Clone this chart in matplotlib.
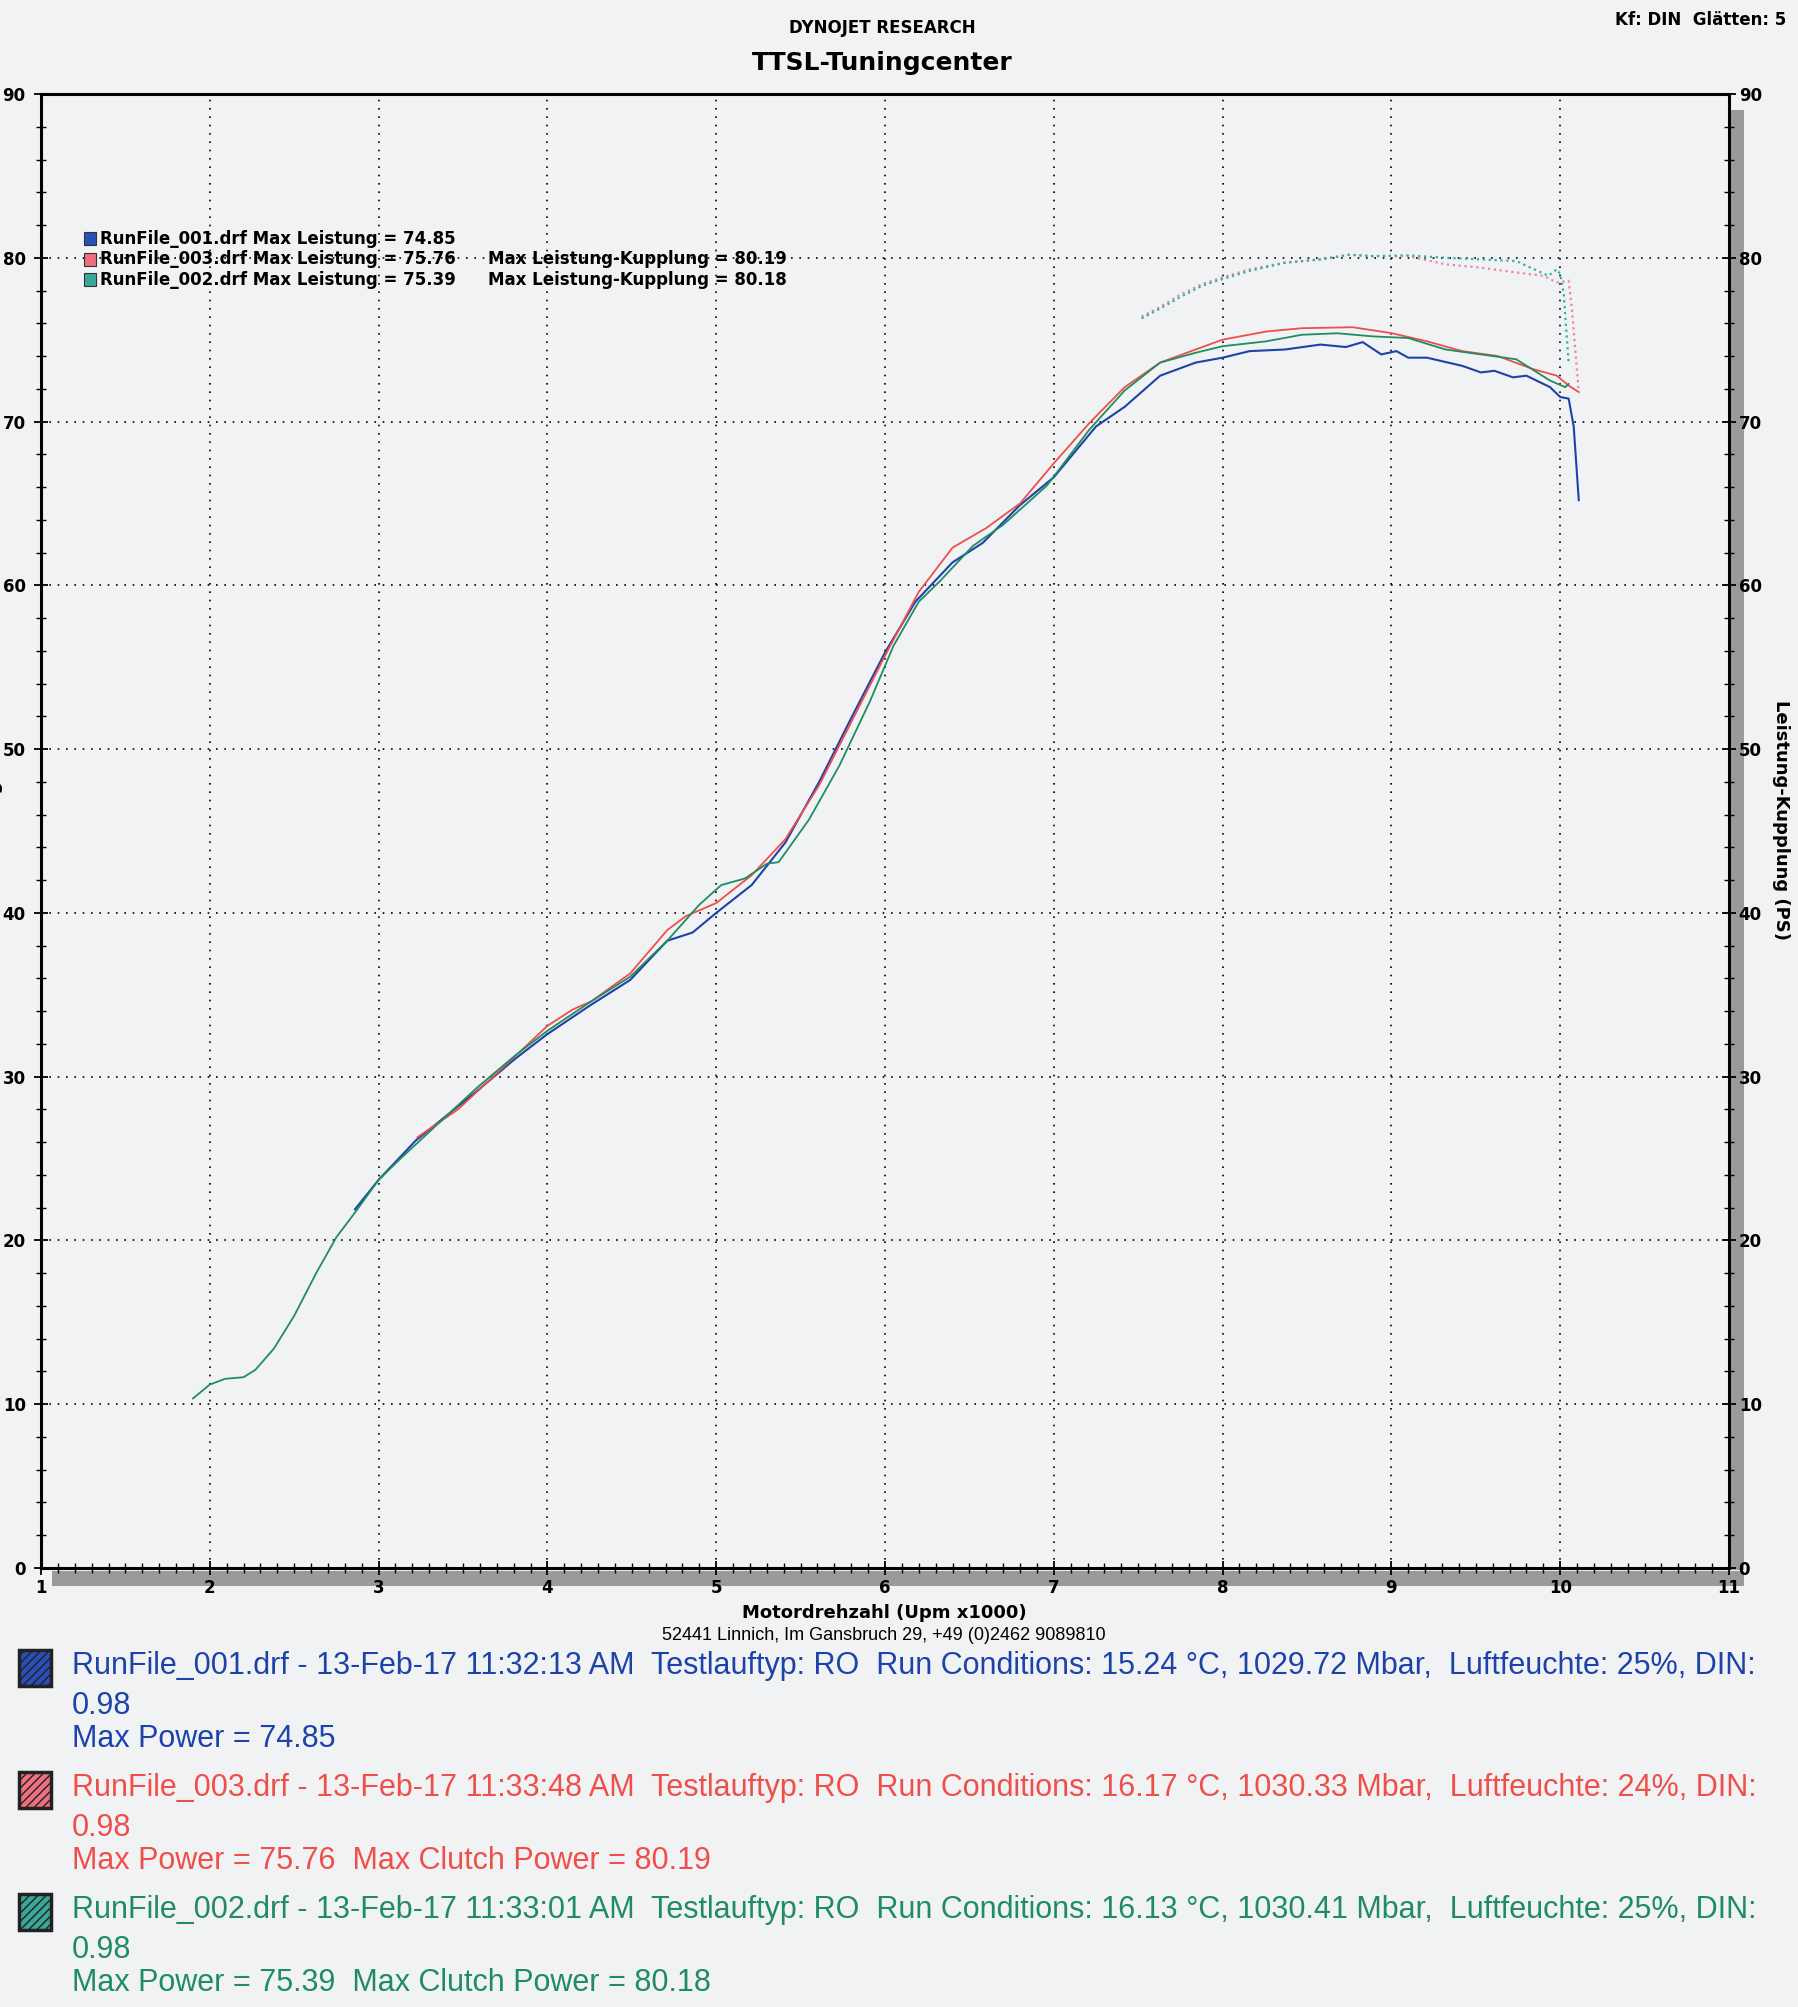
import matplotlib
matplotlib.use("Agg")
import matplotlib.pyplot as plt
from matplotlib.patches import Rectangle
import numpy as np

plt.rcParams['font.family'] = ['DejaVu Sans']

# --- data (rpm x1000, PS) ---
rpm_001 = [2.86, 3.0, 3.22, 3.58, 3.81, 4.0, 4.26, 4.49, 4.71, 4.86, 5.0, 5.21, 5.41, 5.61,
           5.81, 6.0, 6.18, 6.4, 6.58, 6.8, 7.0, 7.25, 7.42, 7.63, 7.84, 8.0, 8.16, 8.37,
           8.58, 8.73, 8.83, 8.94, 9.03, 9.1, 9.21, 9.42, 9.53, 9.61, 9.72, 9.8, 9.94, 10.0,
           10.05, 10.08, 10.11]
pwr_001 = [21.9, 23.7, 26.1, 29.1, 31.1, 32.6, 34.4, 35.9, 38.3, 38.8, 40.0, 41.7, 44.3, 48.0,
           52.1, 55.9, 59.0, 61.4, 62.6, 64.9, 66.6, 69.7, 70.9, 72.8, 73.6, 73.9, 74.3, 74.4,
           74.7, 74.55, 74.85, 74.1, 74.3, 73.9, 73.9, 73.4, 73.0, 73.1, 72.7, 72.8, 72.1, 71.5,
           71.4, 69.7, 65.2]

rpm_003 = [3.23, 3.47, 3.7, 4.0, 4.15, 4.26, 4.49, 4.71, 4.82, 5.0, 5.21, 5.41, 5.61, 5.81,
           6.0, 6.2, 6.4, 6.6, 6.8, 7.0, 7.21, 7.42, 7.63, 7.84, 8.0, 8.26, 8.47, 8.77, 9.0,
           9.21, 9.42, 9.63, 9.84, 9.98, 10.05, 10.11]
pwr_003 = [26.3, 28.0, 30.2, 33.1, 34.1, 34.6, 36.3, 38.95, 39.8, 40.6, 42.3, 44.5, 47.8, 51.85,
           55.7, 59.6, 62.3, 63.5, 65.0, 67.45, 69.9, 72.1, 73.6, 74.4, 75.0, 75.5, 75.7, 75.76,
           75.4, 74.9, 74.3, 74.0, 73.2, 72.8, 72.2, 71.8]

rpm_002 = [1.9, 2.0, 2.09, 2.2, 2.27, 2.38, 2.5, 2.63, 2.75, 2.86, 3.0, 3.13, 3.36, 3.58, 3.81,
           4.0, 4.26, 4.49, 4.71, 4.9, 5.03, 5.17, 5.3, 5.37, 5.55, 5.73, 5.91, 6.05, 6.2, 6.32,
           6.52, 6.7, 6.96, 7.21, 7.42, 7.63, 7.84, 8.0, 8.26, 8.47, 8.68, 8.89, 9.1, 9.32, 9.53,
           9.74, 9.94, 10.03, 10.05]
pwr_002 = [10.35, 11.2, 11.55, 11.65, 12.1, 13.4, 15.4, 18.0, 20.2, 21.7, 23.7, 25.0, 27.2, 29.3,
           31.3, 32.8, 34.6, 36.1, 38.3, 40.5, 41.7, 42.1, 43.0, 43.1, 45.7, 49.0, 52.9, 56.3,
           59.0, 60.2, 62.4, 63.7, 66.1, 69.5, 71.9, 73.6, 74.2, 74.6, 74.9, 75.3, 75.39, 75.2,
           75.1, 74.4, 74.1, 73.8, 72.5, 72.1, 72.3]

# clutch power (Leistung-Kupplung)
rpm_003k = [7.52, 7.63, 7.74, 7.88, 8.0, 8.16, 8.37, 8.58, 8.75, 8.89, 9.1, 9.32, 9.53, 9.74,
            9.9, 9.98, 10.05, 10.07, 10.11]
kpl_003 = [76.4, 77.0, 77.7, 78.4, 78.8, 79.3, 79.7, 79.9, 80.19, 80.1, 80.1, 79.6, 79.4, 79.1,
           78.9, 78.5, 78.6, 76.8, 71.8]
rpm_002k = [7.52, 7.63, 7.74, 7.88, 8.0, 8.16, 8.37, 8.58, 8.75, 8.89, 9.1, 9.32, 9.53, 9.74,
            9.93, 9.98, 10.0, 10.02, 10.05]
kpl_002 = [76.3, 76.9, 77.55, 78.3, 78.7, 79.2, 79.7, 79.9, 80.18, 80.1, 80.15, 80.0, 79.9, 79.8,
           78.9, 79.3, 79.0, 77.9, 73.6]

legend_lines = ['RunFile_001.drf Max Leistung = 74.85',
                'RunFile_003.drf Max Leistung = 75.76',
                'RunFile_002.drf Max Leistung = 75.39']
legend_clutch = ['', 'Max Leistung-Kupplung = 80.19', 'Max Leistung-Kupplung = 80.18']

run_info = [
    ('RunFile_001.drf - 13-Feb-17 11:32:13 AM  Testlauftyp: RO  Run Conditions: 15.24 \u00b0C, '
     '1029.72 Mbar,  Luftfeuchte: 25%, DIN:', '0.98', 'Max Power = 74.85'),
    ('RunFile_003.drf - 13-Feb-17 11:33:48 AM  Testlauftyp: RO  Run Conditions: 16.17 \u00b0C, '
     '1030.33 Mbar,  Luftfeuchte: 24%, DIN:', '0.98', 'Max Power = 75.76  Max Clutch Power = 80.19'),
    ('RunFile_002.drf - 13-Feb-17 11:33:01 AM  Testlauftyp: RO  Run Conditions: 16.13 \u00b0C, '
     '1030.41 Mbar,  Luftfeuchte: 25%, DIN:', '0.98', 'Max Power = 75.39  Max Clutch Power = 80.18'),
]

c_blue = '#1d43a8'
c_red = '#ef4f4a'
c_green = '#1f8c62'
c_pink = '#f0849a'
c_cyan = '#2fb2a6'
text_colors = [c_blue, c_red, c_green]
swatch_colors = ['#2a4fb8', '#ee7080', '#3aa898']
paper = '#f1f2f4'

W, H = 1798, 2007
fig = plt.figure(figsize=(W / 100, H / 100), dpi=100, facecolor=paper)
ax = fig.add_axes([41 / W, 1 - 1568 / H, (1729 - 41) / W, (1568 - 94) / H])
ax.set_facecolor(paper)

ax.plot(rpm_001, pwr_001, '-', color=c_blue, lw=1.5)
ax.plot(rpm_003, pwr_003, '-', color=c_red, lw=1.3)
ax.plot(rpm_002, pwr_002, '-', color=c_green, lw=1.3)
ax.plot(rpm_003k, kpl_003, ':', color=c_pink, lw=1.6)
ax.plot(rpm_002k, kpl_002, ':', color=c_cyan, lw=1.6)

ax.set_xlim(1, 11)
ax.set_ylim(0, 90)
ax.set_xticks(np.arange(1, 12))
ax.set_xticks(np.arange(1, 11.01, 0.1), minor=True)
ax.set_yticks(np.arange(0, 91, 10))
ax.set_yticks(np.arange(0, 91, 2), minor=True)
ax.grid(True, which='major', color='black', linestyle=(0, (1, 4)), lw=1.2)
for s in ax.spines.values():
    s.set_linewidth(2.2)
ax.tick_params(axis='both', which='major', direction='inout', length=10, width=1.3,
               labelsize=12)
ax.tick_params(axis='both', which='minor', direction='inout', length=7, width=1.0)
ax.tick_params(axis='y', pad=6)
ax.tick_params(axis='x', pad=3)
for lab in ax.get_xticklabels() + ax.get_yticklabels():
    lab.set_fontweight('bold')

ax2 = ax.twinx()
ax2.set_ylim(0, 90)
ax2.set_yticks(np.arange(0, 91, 10))
ax2.set_yticks(np.arange(0, 91, 2), minor=True)
ax2.tick_params(axis='y', which='major', direction='inout', length=10, width=1.3,
                labelsize=12, pad=2)
ax2.tick_params(axis='y', which='minor', direction='inout', length=7, width=1.0)
for lab in ax2.get_yticklabels():
    lab.set_fontweight('bold')
for s in ax2.spines.values():
    s.set_visible(False)

fig.text(1781 / W, 1 - 820 / H, 'Leistung-Kupplung (PS)', rotation=270, fontsize=13,
         fontweight='bold', ha='center', va='center')

# shadow bands under/right of the frame (behind the tick labels)
fig.patches.append(Rectangle((1731 / W, 1 - 1570 / H), 13 / W, (1570 - 110) / H,
                             transform=fig.transFigure, facecolor='#9a9a9a',
                             edgecolor='none', zorder=-1))
fig.patches.append(Rectangle((52 / W, 1 - 1586 / H), (1744 - 52) / W, 15 / H,
                             transform=fig.transFigure, facecolor='#9a9a9a',
                             edgecolor='none', zorder=-1))

# in-plot legend
for i, (t1, t2) in enumerate(zip(legend_lines, legend_clutch)):
    yy = 1 - (239 + i * 20.5) / H
    fig.patches.append(Rectangle((84 / W, yy - 6 / H), 12 / W, 13 / H,
                                 transform=fig.transFigure, facecolor=swatch_colors[i],
                                 edgecolor='#333333', lw=0.8))
    fig.text(100 / W, yy, t1, fontsize=12, fontweight='bold', va='center', ha='left')
    if t2:
        fig.text(488 / W, yy, t2, fontsize=12, fontweight='bold', va='center', ha='left')

fig.text(882 / W, 1 - 28 / H, 'DYNOJET RESEARCH', fontsize=12, fontweight='bold',
         ha='center', va='center')
fig.text(882 / W, 1 - 63 / H, 'TTSL-Tuningcenter', fontsize=18, fontweight='bold',
         ha='center', va='center')
fig.text(1786 / W, 1 - 20 / H, 'Kf: DIN  Gl\u00e4tten: 5', fontsize=12, fontweight='bold',
         ha='right', va='center')
fig.text(-6 / W, 1 - 800 / H, 'Leistung (PS)', rotation=90, fontsize=13, fontweight='bold',
         ha='center', va='center')

fig.text(884 / W, 1 - 1613 / H, 'Motordrehzahl (Upm x1000)', fontsize=13, fontweight='bold',
         ha='center', va='center')
fig.text(884 / W, 1 - 1636 / H, '52441 Linnich, Im Gansbruch 29, +49 (0)2462 9089810',
         fontsize=13, ha='center', va='center', family='Liberation Sans')

# run info block
for i, (l1, l2, l3) in enumerate(run_info):
    y0 = 1666 + i * 122
    col = text_colors[i]
    fig.patches.append(Rectangle((19 / W, 1 - (y0 + 20) / H), 32 / W, 36 / H,
                                 transform=fig.transFigure, facecolor=swatch_colors[i],
                                 edgecolor='#222222', lw=2.5, hatch='////'))
    fig.text(72 / W, 1 - y0 / H, l1, fontsize=22, color=col, va='center', ha='left',
             family='Liberation Sans')
    fig.text(72 / W, 1 - (y0 + 40) / H, l2, fontsize=22, color=col, va='center', ha='left',
             family='Liberation Sans')
    fig.text(72 / W, 1 - (y0 + 73) / H, l3, fontsize=22, color=col, va='center', ha='left',
             family='Liberation Sans')

fig.savefig('out.png', dpi=100, facecolor=paper)
